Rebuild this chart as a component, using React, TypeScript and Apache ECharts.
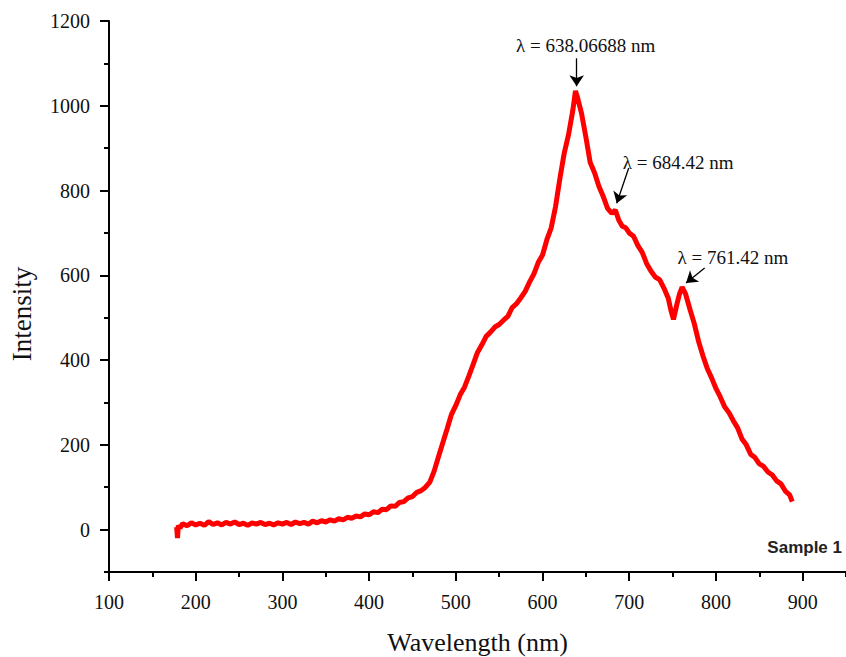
import React, { useEffect, useRef } from "react";
import * as echarts from "echarts";

const wavelengths = [
  178, 179, 180, 182, 185, 190, 195, 200, 205, 210, 215, 220, 225, 230, 235, 240, 245, 250, 255, 260,
  265, 270, 275, 280, 285, 290, 295, 300, 305, 310, 315, 320, 325, 330, 335, 340, 345, 350, 355, 360,
  365, 370, 375, 380, 385, 390, 395, 400, 405, 410, 415, 420, 425, 430, 435, 440, 445, 450, 455, 460,
  465, 470, 475, 480, 485, 490, 495, 500, 505, 510, 515, 520, 525, 530, 535, 540, 545, 550, 555, 560,
  565, 570, 575, 580, 585, 590, 595, 600, 605, 610, 615, 620, 625, 630, 635, 638, 640, 645, 650, 655,
  660, 665, 670, 675, 680, 684, 688, 692, 696, 700, 705, 710, 715, 720, 725, 730, 735, 740, 745, 748,
  751, 755, 758, 761, 765, 770, 775, 780, 785, 790, 795, 800, 805, 810, 815, 820, 825, 830, 835, 840,
  845, 850, 855, 860, 865, 870, 875, 880, 885, 888,
];

const intensities = [
  6, -20, 10, 4, 14, 9, 16, 11, 15, 10, 19, 12, 16, 11, 17, 13, 18, 12, 15, 10,
  16, 13, 17, 12, 15, 11, 16, 13, 17, 12, 18, 14, 17, 13, 20, 16, 21, 18, 23, 20,
  26, 23, 29, 27, 32, 30, 37, 35, 42, 40, 48, 47, 56, 55, 64, 66, 75, 78, 88, 92,
  100, 112, 138, 172, 205, 238, 272, 293, 318, 336, 362, 390, 418, 436, 456, 466, 478, 484, 494, 503,
  524, 533, 547, 562, 584, 603, 630, 648, 684, 712, 762, 828, 888, 932, 990, 1035, 1022, 982, 926, 866,
  842, 810, 786, 758, 746, 754, 730, 716, 712, 700, 692, 670, 654, 628, 610, 596, 590, 570, 546, 518,
  496, 532, 556, 572, 556, 520, 486, 444, 410, 380, 358, 333, 313, 290, 276, 257, 240, 214, 200, 178,
  170, 155, 149, 136, 129, 115, 108, 91, 82, 66,
];

const xMajorTicks = [100, 200, 300, 400, 500, 600, 700, 800, 900];
const xMinorTicks = [150, 250, 350, 450, 550, 650, 750, 850, 950];
const yMajorTicks = [0, 200, 400, 600, 800, 1000, 1200];
const yMinorTicks = [-100, 100, 300, 500, 700, 900, 1100];

const peakLabels = ["λ = 638.06688 nm", "λ = 684.42 nm", "λ = 761.42 nm"];
const labelAnchors = [
  [649.8, 1143],
  [692.5, 867],
  [755.8, 641],
];
const arrowStarts = [
  [639.4, 1112],
  [699.4, 853],
  [787, 617],
];
const arrowEnds = [
  [639.4, 1046],
  [685.6, 770],
  [765.5, 582],
];

const SERIF = '"Liberation Serif", "Times New Roman", serif';

export default function App() {
  const ref = useRef<HTMLDivElement>(null);

  useEffect(() => {
    document.body.style.margin = "0";
    const chart = echarts.init(ref.current!, null, { renderer: "svg" });
    const data = wavelengths.map((w, i) => [w, intensities[i]]);

    const axisCommon = {
      type: "value" as const,
      splitLine: { show: false },
    };
    const plain = (v: number) => String(v);

    chart.setOption({
      animation: false,
      backgroundColor: "#ffffff",
      grid: { left: 109, right: 0, top: 21, bottom: 85, containLabel: false, outerBoundsMode: "none" },
      xAxis: [
        {
          ...axisCommon,
          min: 100,
          max: 950,
          position: "bottom",
          name: "Wavelength (nm)",
          nameLocation: "middle",
          nameGap: 57,
          nameTextStyle: { fontFamily: SERIF, fontSize: 26, color: "#111" },
          axisLine: { show: true, onZero: false, lineStyle: { color: "#000", width: 2 } },
          axisTick: { show: true, inside: false, length: 9, customValues: xMajorTicks, lineStyle: { color: "#000", width: 2 } },
          axisLabel: { show: true, customValues: xMajorTicks, formatter: plain, margin: 20, fontFamily: SERIF, fontSize: 20, color: "#111" },
        },
        {
          ...axisCommon,
          min: 100,
          max: 950,
          position: "bottom",
          axisLine: { show: false, onZero: false },
          axisTick: { show: true, inside: false, length: 5, customValues: xMinorTicks, lineStyle: { color: "#000", width: 2 } },
          axisLabel: { show: false },
        },
      ],
      yAxis: [
        {
          ...axisCommon,
          min: -100,
          max: 1200,
          position: "left",
          axisLine: { show: true, onZero: false, lineStyle: { color: "#000", width: 2 } },
          axisTick: { show: true, inside: false, length: 9, customValues: yMajorTicks, lineStyle: { color: "#000", width: 2 } },
          axisLabel: { show: true, customValues: yMajorTicks, formatter: plain, margin: 19, fontFamily: SERIF, fontSize: 20, color: "#111" },
        },
        {
          ...axisCommon,
          min: -100,
          max: 1200,
          position: "left",
          axisLine: { show: false, onZero: false },
          axisTick: { show: true, inside: false, length: 5, customValues: yMinorTicks, lineStyle: { color: "#000", width: 2 } },
          axisLabel: { show: false },
        },
      ],
      graphic: [
        {
          type: "text",
          x: 22,
          y: 314,
          rotation: Math.PI / 2,
          style: {
            text: "Intensity",
            font: '27px "Liberation Serif", "Times New Roman", serif',
            fill: "#111",
            align: "center",
            verticalAlign: "middle",
          },
        },
        {
          type: "text",
          right: 4,
          top: 539,
          style: { text: "Sample 1", font: 'bold 17px "Liberation Sans", Arial, sans-serif', fill: "#222" },
        },
      ],
      series: [
        {
          type: "line",
          xAxisIndex: 0,
          yAxisIndex: 0,
          data,
          showSymbol: false,
          symbol: "none",
          lineStyle: { color: "#ff0000", width: 5 },
          itemStyle: { color: "#ff0000" },
          markLine: {
            silent: true,
            symbol: ["none", "arrow"],
            symbolSize: 11,
            label: { show: false },
            lineStyle: { color: "#000", width: 1.3, type: "solid" },
            data: arrowStarts.map((s, i) => [{ coord: s }, { coord: arrowEnds[i] }]),
          },
          markPoint: {
            silent: true,
            symbolSize: 0,
            data: peakLabels.map((t, i) => ({
              coord: labelAnchors[i],
              value: t,
              label: {
                show: true,
                formatter: t,
                position: "inside",
                align: i === 0 ? "center" : "left",
                verticalAlign: "middle",
                fontFamily: SERIF,
                fontSize: 19,
                color: "#111",
              },
            })),
          },
        },
      ],
    });

    return () => chart.dispose();
  }, []);

  return <div ref={ref} style={{ width: 846, height: 657 }} />;
}
